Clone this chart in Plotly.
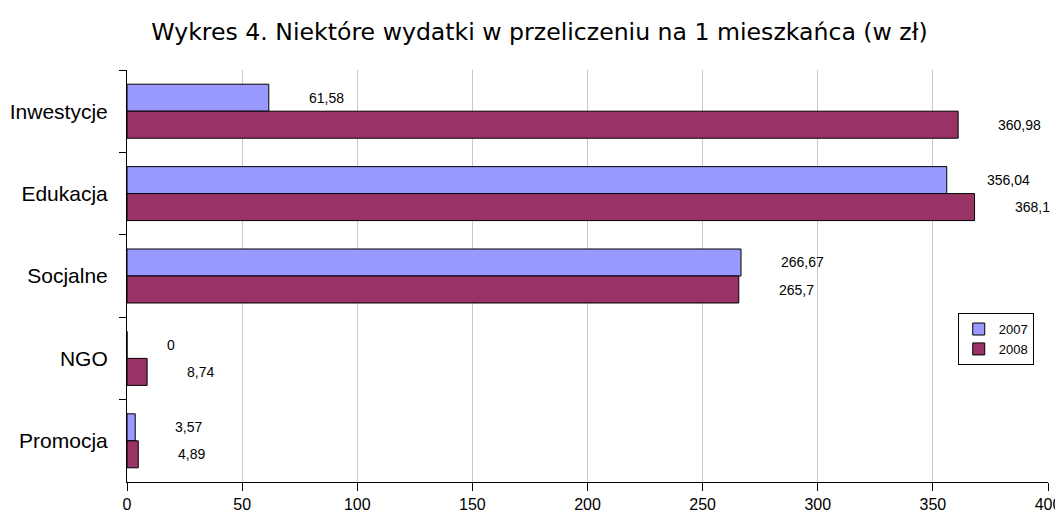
import plotly.graph_objects as go

categories = ["Inwestycje", "Edukacja", "Socjalne", "NGO", "Promocja"]
values_2007 = [61.58, 356.04, 266.67, 0, 3.57]
values_2008 = [360.98, 368.1, 265.7, 8.74, 4.89]
series_names = ["2007", "2008"]
colors = ["#9999FF", "#993366"]
x_ticks = [0, 50, 100, 150, 200, 250, 300, 350, 400]


def fmt(v):
    s = ("%.2f" % v).rstrip("0").rstrip(".")
    return s.replace(".", ",")


fig = go.Figure()
for name, vals, col in zip(series_names, [values_2007, values_2008], colors):
    fig.add_trace(go.Bar(
        y=categories, x=vals, name=name, orientation="h",
        marker=dict(color=col, line=dict(color="black", width=1)),
        offsetgroup=name,
    ))

# data labels
for i, vals in enumerate([values_2007, values_2008]):
    for j, (cat, v) in enumerate(zip(categories, vals)):
        fig.add_annotation(
            x=v, y=j + (-0.165 if i == 0 else 0.165), yref="y", xref="x",
            text=fmt(v), showarrow=False, xanchor="left", yanchor="middle",
            xshift=38, font=dict(family="Liberation Sans, Arial", size=14, color="black"),
        )

fig.update_layout(
    width=1063, height=515,
    margin=dict(l=119, r=23, t=62, b=41, autoexpand=False),
    paper_bgcolor="white", plot_bgcolor="white",
    barmode="group", bargap=0.345, bargroupgap=0,
    title=dict(text="Wykres 4. Niektóre wydatki w przeliczeniu na 1 mieszkańca (w zł)",
               x=0.5, xanchor="center", y=0.953, yanchor="middle",
               font=dict(family="DejaVu Sans", size=23.6, color="black")),
    showlegend=True,
    legend=dict(x=0.902, y=0.41, xanchor="left", yanchor="top",
                bordercolor="black", borderwidth=1, bgcolor="white",
                traceorder="normal",
                font=dict(family="Liberation Sans, Arial", size=13, color="black"),
                itemwidth=30, tracegroupgap=0),
)
fig.update_xaxes(range=[0, 400], tickvals=x_ticks, ticktext=[str(t) for t in x_ticks],
                 showgrid=True, gridcolor="#C8C8C8", gridwidth=1,
                 showline=True, linecolor="black", linewidth=1,
                 ticks="outside", ticklen=8, tickcolor="black",
                 zeroline=False, automargin=False,
                 tickfont=dict(family="Liberation Sans, Arial", size=16, color="black"))
fig.update_yaxes(autorange="reversed", type="category",
                 showline=True, linecolor="black", linewidth=1,
                 ticks="outside", ticklen=7, tickcolor="black", tickson="boundaries",
                 showgrid=False, automargin=False,
                 tickfont=dict(family="Liberation Sans, Arial", size=21, color="black"),
                 ticklabelstandoff=14)

fig.write_html("out.html")
